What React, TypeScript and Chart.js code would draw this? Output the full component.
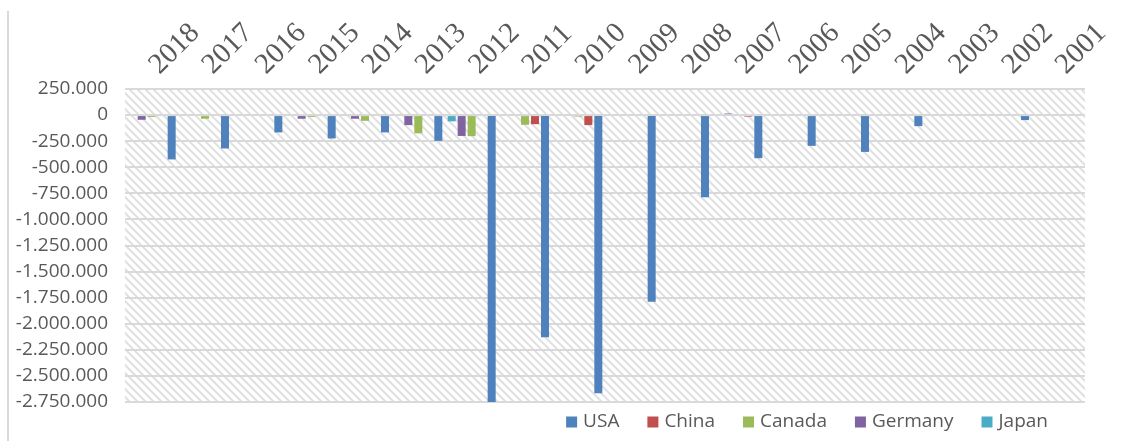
import React, { useEffect, useRef } from 'react';
import { Chart, registerables } from 'chart.js';

Chart.register(...registerables);

// Categories (left to right as in the reference)
const years = ['2018', '2017', '2016', '2015', '2014', '2013', '2012', '2011', '2010', '2009', '2008', '2007', '2006', '2005', '2004', '2003', '2002', '2001'];

// Series values
const usa = [-425000, -320000, -166000, -224000, -166000, -247000, -2900000, -2129000, -2667000, -1789000, -788000, -413000, -295000, -353000, -106000, null, -48000, null];
const china = [null, null, null, null, null, null, null, -87000, -96000, null, null, -15000, null, null, null, null, null, null];
const canada = [-18000, -35000, null, -18000, -55000, -175000, -202000, -93000, -15000, null, null, null, null, null, null, null, null, null];
const germany = [-45000, null, null, -35000, -35000, -96000, -200000, null, null, null, null, 15000, null, null, null, null, null, null];
const japan = [null, null, null, null, null, null, -60000, null, null, null, null, null, null, null, null, null, null, null];

// Value axis
const yMin = -2750000;
const yMax = 250000;
const yStep = 250000;

const seriesNames = ['USA', 'China', 'Canada', 'Germany', 'Japan'];
const seriesColors = ['#4F81BD', '#C0504D', '#9BBB59', '#8064A2', '#4BACC6'];

function fmt(v: number): string {
  if (v === 0) return '0';
  const s = Math.abs(v).toString().replace(/\B(?=(\d{3})+(?!\d))/g, '.');
  return (v < 0 ? '-' : '') + s;
}

const backdropPlugin = {
  id: 'backdrop',
  beforeDraw(chart: any) {
    const { ctx, chartArea: a } = chart;
    ctx.save();
    ctx.fillStyle = '#d9d9d9';
    ctx.fillRect(7, 11, 2, chart.height - 11);
    const tile = document.createElement('canvas');
    tile.width = 8;
    tile.height = 8;
    const t = tile.getContext('2d')!;
    t.strokeStyle = '#e0e0e0';
    t.lineWidth = 2;
    t.beginPath();
    t.moveTo(-2, -2); t.lineTo(10, 10);
    t.moveTo(6, -2); t.lineTo(10, 2);
    t.moveTo(-2, 6); t.lineTo(2, 10);
    t.stroke();
    const pat = ctx.createPattern(tile, 'repeat');
    if (pat) {
      ctx.fillStyle = pat;
      ctx.fillRect(a.left, a.top, a.right - a.left, a.bottom - a.top);
    }
    ctx.restore();
  },
};

const legendPlugin = {
  id: 'bottomLegend',
  afterDraw(chart: any) {
    const ctx = chart.ctx;
    const items = chart.data.datasets.map((d: any) => ({ label: d.label, color: d.backgroundColor })).reverse();
    ctx.save();
    ctx.font = '19px "Open Sans"';
    ctx.textBaseline = 'middle';
    ctx.textAlign = 'left';
    const box = 11;
    const gapBoxText = 6;
    const gapItems = 28;
    const widths = items.map((it: any) => box + gapBoxText + ctx.measureText(it.label).width);
    const total = widths.reduce((p: number, c: number) => p + c, 0) + gapItems * (items.length - 1);
    const legendRight = 1048;
    const cy = 422;
    let x = legendRight - total;
    items.forEach((it: any, i: number) => {
      ctx.fillStyle = it.color;
      ctx.fillRect(x, cy - box / 2, box, box);
      ctx.fillStyle = '#595959';
      ctx.fillText(it.label, x + box + gapBoxText, cy);
      x += widths[i] + gapItems;
    });
    ctx.restore();
  },
};

export default function App() {
  const ref = useRef<HTMLCanvasElement>(null);

  useEffect(() => {
    const seriesData = [usa, china, canada, germany, japan];
    const datasets = seriesNames
      .map((name, i) => ({
        label: name,
        data: seriesData[i],
        backgroundColor: seriesColors[i],
        borderWidth: 0,
        categoryPercentage: 0.9375,
        barPercentage: 0.8,
        clip: 0,
      }))
      .reverse();

    const chart = new Chart(ref.current!, {
      type: 'bar',
      data: { labels: years, datasets: datasets as any },
      options: {
        animation: false,
        responsive: false,
        devicePixelRatio: 1,
        layout: { padding: { left: 0, right: 51, top: 0, bottom: 39 } },
        plugins: {
          legend: { display: false },
          tooltip: { enabled: false },
        },
        scales: {
          x: {
            position: 'top',
            grid: { display: false, drawTicks: false },
            border: { display: false },
            ticks: {
              autoSkip: false,
              minRotation: 45,
              maxRotation: 45,
              padding: 7,
              labelOffset: 27,
              color: '#595959',
              font: { family: '"Liberation Serif", serif', size: 29 },
            },
            afterFit: (s: any) => { s.height = 89; },
          },
          y: {
            min: yMin,
            max: yMax,
            ticks: {
              stepSize: yStep,
              padding: 17,
              color: '#595959',
              font: { family: '"Open Sans", sans-serif', size: 19 },
              callback: (v: any) => fmt(Number(v)),
            },
            grid: { color: '#d9d9d9', lineWidth: 2, drawTicks: false },
            border: { display: false },
            afterFit: (s: any) => { s.width = 125; },
          },
        },
      },
      plugins: [backdropPlugin, legendPlugin],
    });
    return () => chart.destroy();
  }, []);

  return (
    <div style={{ position: 'fixed', left: 0, top: 0, width: 1136, height: 441, background: '#fff' }}>
      <canvas ref={ref} width={1136} height={441} style={{ display: 'block' }} />
    </div>
  );
}
